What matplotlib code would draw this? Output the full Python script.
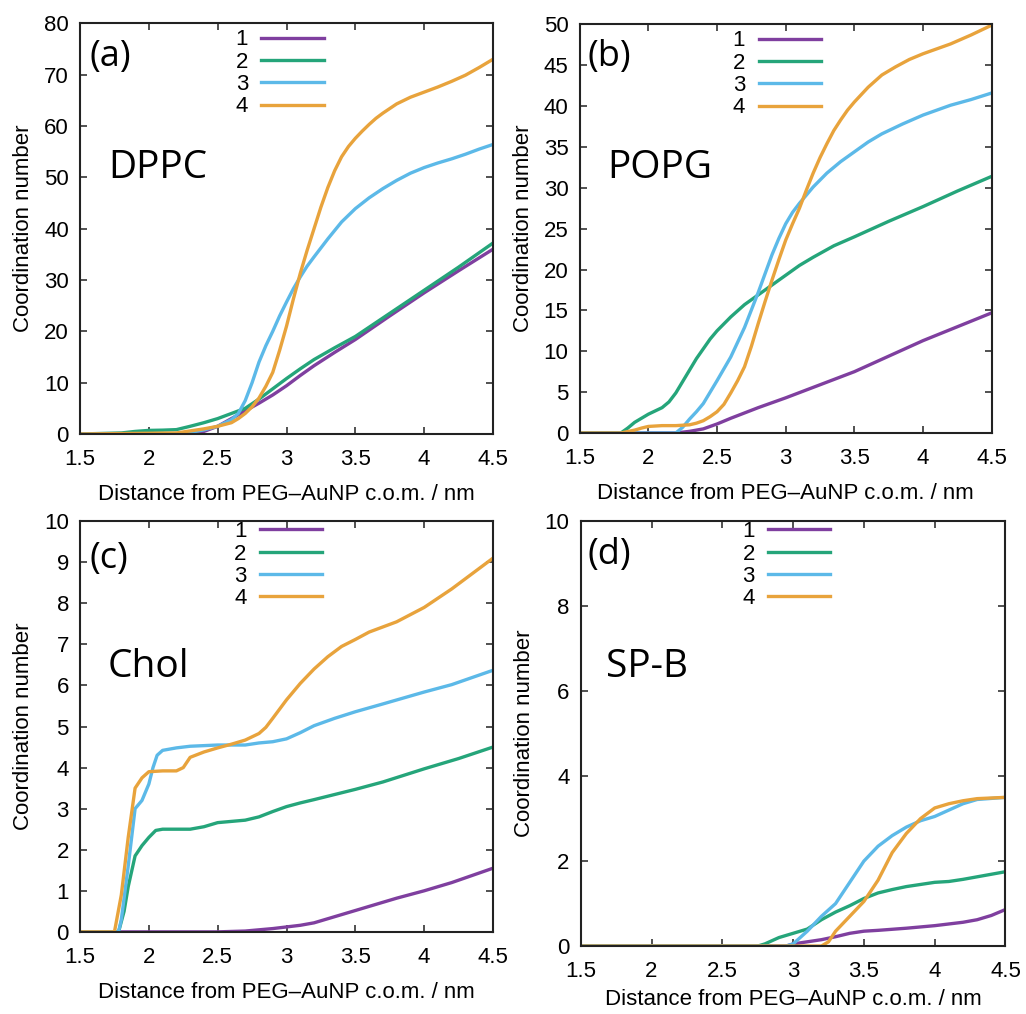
import numpy as np
import matplotlib.pyplot as plt

# colours of the 4 series (gnuplot-like)
colors = ['#7f3f9f', '#25a57a', '#5cb9e8', '#e8a33c']
series_labels = ['1', '2', '3', '4']

# (a) DPPC
a1_x = [1.5, 2.3, 2.4, 2.5, 2.6, 2.7, 2.8, 2.9, 3.0, 3.1, 3.2, 3.35, 3.5, 3.75, 4.0, 4.25, 4.5]
a1_y = [0, 0, 0.5, 1.5, 3.0, 4.5, 6.0, 7.6, 9.4, 11.4, 13.3, 15.9, 18.4, 23.0, 27.5, 31.8, 36.0]
a2_x = [1.5, 1.8, 1.9, 2.0, 2.1, 2.2, 2.3, 2.4, 2.5, 2.6, 2.7, 2.8, 2.9, 3.0, 3.1, 3.2, 3.35, 3.5,
        3.75, 4.0, 4.25, 4.5]
a2_y = [0, 0.2, 0.5, 0.7, 0.75, 0.85, 1.5, 2.2, 3.0, 4.0, 5.0, 6.8, 8.8, 10.8, 12.7, 14.5, 16.8,
        19.0, 23.5, 28.0, 32.5, 37.2]
a3_x = [1.5, 2.2, 2.3, 2.4, 2.5, 2.6, 2.65, 2.7, 2.75, 2.8, 2.85, 2.9, 2.95, 3.0, 3.05, 3.1, 3.15,
        3.2, 3.3, 3.4, 3.5, 3.6, 3.7, 3.8, 3.9, 4.0, 4.1, 4.2, 4.3, 4.4, 4.5]
a3_y = [0, 0, 0.3, 0.8, 1.5, 2.8, 4.0, 6.5, 10.0, 14.0, 17.2, 20.0, 23.0, 25.7, 28.3, 30.6, 32.7,
        34.5, 38.0, 41.3, 43.9, 46.0, 47.8, 49.4, 50.8, 51.9, 52.8, 53.6, 54.5, 55.5, 56.4]
a4_x = [1.5, 2.2, 2.3, 2.4, 2.5, 2.6, 2.65, 2.7, 2.75, 2.8, 2.85, 2.9, 2.95, 3.0, 3.05, 3.1, 3.15,
        3.2, 3.25, 3.3, 3.35, 3.4, 3.45, 3.5, 3.55, 3.6, 3.65, 3.7, 3.8, 3.9, 4.0, 4.1, 4.2, 4.3,
        4.4, 4.5]
a4_y = [0, 0.2, 0.6, 1.0, 1.5, 2.2, 3.0, 4.0, 5.3, 7.0, 9.3, 12.0, 16.3, 21.0, 26.3, 31.3, 35.8,
        40.0, 44.2, 48.0, 51.3, 54.0, 56.0, 57.6, 59.0, 60.3, 61.5, 62.5, 64.3, 65.6, 66.6, 67.6,
        68.7, 69.9, 71.4, 73.0]

# (b) POPG
b1_x = [1.5, 2.2, 2.3, 2.4, 2.5, 2.6, 2.8, 3.0, 3.25, 3.5, 3.75, 4.0, 4.25, 4.5]
b1_y = [0, 0, 0.2, 0.5, 1.1, 1.8, 3.1, 4.3, 5.9, 7.5, 9.4, 11.3, 13.0, 14.7]
b2_x = [1.5, 1.8, 1.85, 1.9, 1.95, 2.0, 2.05, 2.1, 2.15, 2.2, 2.25, 2.3, 2.35, 2.4, 2.45, 2.5, 2.6,
        2.7, 2.8, 2.9, 3.0, 3.1, 3.2, 3.35, 3.5, 3.75, 4.0, 4.25, 4.5]
b2_y = [0, 0, 0.6, 1.3, 1.8, 2.3, 2.7, 3.1, 3.8, 4.9, 6.3, 7.7, 9.1, 10.3, 11.5, 12.5, 14.2,
        15.7, 16.9, 18.1, 19.3, 20.5, 21.5, 22.9, 24.0, 25.9, 27.7, 29.6, 31.4]
b3_x = [1.5, 2.2, 2.25, 2.3, 2.35, 2.4, 2.5, 2.6, 2.7, 2.8, 2.9, 2.95, 3.0, 3.05, 3.1, 3.2, 3.3,
        3.4, 3.5, 3.6, 3.7, 3.85, 4.0, 4.2, 4.35, 4.5]
b3_y = [0, 0, 0.7, 1.7, 2.6, 3.6, 6.4, 9.3, 12.9, 17.2, 21.8, 23.8, 25.6, 27.0, 28.1, 30.1, 31.8,
        33.2, 34.4, 35.6, 36.6, 37.8, 38.9, 40.1, 40.8, 41.6]
b4_x = [1.5, 1.8, 1.9, 1.95, 2.0, 2.1, 2.2, 2.3, 2.35, 2.4, 2.45, 2.5, 2.55, 2.6, 2.65, 2.7, 2.75,
        2.8, 2.85, 2.9, 2.95, 3.0, 3.05, 3.1, 3.15, 3.2, 3.25, 3.3, 3.35, 3.4, 3.45, 3.5, 3.6, 3.7,
        3.8, 3.9, 4.0, 4.1, 4.2, 4.35, 4.5]
b4_y = [0, 0, 0.35, 0.6, 0.8, 0.9, 0.9, 1.0, 1.2, 1.5, 2.0, 2.6, 3.5, 4.9, 6.4, 8.1, 10.6, 13.4,
        16.1, 18.7, 21.2, 23.6, 25.6, 27.5, 29.7, 31.8, 33.7, 35.4, 37.0, 38.3, 39.5, 40.5, 42.3,
        43.8, 44.8, 45.7, 46.4, 47.0, 47.6, 48.7, 49.9]

# (c) Chol
c1_x = [1.5, 2.5, 2.7, 2.8, 2.9, 3.0, 3.1, 3.2, 3.3, 3.4, 3.6, 3.8, 4.0, 4.2, 4.5]
c1_y = [0, 0, 0.02, 0.05, 0.08, 0.12, 0.16, 0.22, 0.32, 0.42, 0.62, 0.82, 1.0, 1.2, 1.55]
c2_x = [1.5, 1.78, 1.82, 1.85, 1.9, 1.95, 2.0, 2.05, 2.1, 2.3, 2.4, 2.5, 2.7, 2.8, 2.9, 3.0, 3.1,
        3.2, 3.5, 3.7, 4.0, 4.25, 4.5]
c2_y = [0, 0, 0.5, 1.1, 1.85, 2.1, 2.3, 2.47, 2.5, 2.5, 2.56, 2.66, 2.72, 2.8, 2.93, 3.05, 3.14,
        3.22, 3.47, 3.65, 3.97, 4.22, 4.5]
c3_x = [1.5, 1.78, 1.8, 1.85, 1.9, 1.95, 2.0, 2.03, 2.06, 2.1, 2.2, 2.3, 2.5, 2.7, 2.8, 2.9, 3.0,
        3.1, 3.2, 3.35, 3.5, 3.7, 4.0, 4.2, 4.5]
c3_y = [0, 0, 0.3, 1.6, 3.0, 3.2, 3.6, 4.0, 4.3, 4.42, 4.48, 4.52, 4.55, 4.55, 4.6, 4.63, 4.7,
        4.85, 5.02, 5.2, 5.36, 5.55, 5.84, 6.02, 6.37]
c4_x = [1.5, 1.75, 1.8, 1.85, 1.9, 1.95, 2.0, 2.1, 2.2, 2.25, 2.3, 2.4, 2.5, 2.6, 2.7, 2.8, 2.85,
        2.9, 3.0, 3.1, 3.2, 3.3, 3.4, 3.5, 3.6, 3.8, 4.0, 4.2, 4.5]
c4_y = [0, 0, 0.9, 2.3, 3.5, 3.75, 3.9, 3.92, 3.92, 4.0, 4.25, 4.38, 4.48, 4.57, 4.67, 4.83, 4.98,
        5.2, 5.65, 6.05, 6.4, 6.7, 6.95, 7.12, 7.3, 7.55, 7.9, 8.35, 9.1]

# (d) SP-B
d1_x = [1.5, 2.95, 3.0, 3.1, 3.2, 3.3, 3.4, 3.5, 3.6, 3.8, 4.0, 4.2, 4.3, 4.4, 4.5]
d1_y = [0, 0, 0.05, 0.1, 0.15, 0.22, 0.3, 0.35, 0.37, 0.42, 0.48, 0.56, 0.62, 0.72, 0.86]
d2_x = [1.5, 2.75, 2.8, 2.9, 3.0, 3.1, 3.2, 3.3, 3.4, 3.5, 3.6, 3.7, 3.8, 3.9, 4.0, 4.1, 4.2,
        4.3, 4.5]
d2_y = [0, 0, 0.05, 0.2, 0.3, 0.4, 0.62, 0.8, 0.95, 1.12, 1.25, 1.33, 1.4, 1.45, 1.5, 1.52, 1.57,
        1.63, 1.75]
d3_x = [1.5, 2.95, 3.0, 3.1, 3.2, 3.3, 3.4, 3.5, 3.6, 3.7, 3.8, 3.9, 4.0, 4.1, 4.2, 4.3, 4.5]
d3_y = [0, 0, 0.05, 0.35, 0.7, 1.0, 1.5, 2.0, 2.35, 2.6, 2.8, 2.95, 3.05, 3.2, 3.35, 3.45, 3.5]
d4_x = [1.5, 3.2, 3.25, 3.3, 3.4, 3.5, 3.6, 3.7, 3.8, 3.9, 4.0, 4.1, 4.2, 4.3, 4.5]
d4_y = [0, 0, 0.1, 0.35, 0.7, 1.05, 1.55, 2.2, 2.65, 3.0, 3.25, 3.35, 3.42, 3.47, 3.5]

x_ticks = [1.5, 2, 2.5, 3, 3.5, 4, 4.5]
x_tick_labels = ['1.5', '2', '2.5', '3', '3.5', '4', '4.5']

panels = [
    dict(rect=[0.078, 0.572, 0.4025, 0.405], tag='(a)', name='DPPC', ymax=80, ystep=10,
         data=[(a1_x, a1_y), (a2_x, a2_y), (a3_x, a3_y), (a4_x, a4_y)],
         tagpos=(0.024, 0.917), namepos=(0.068, 0.647), leg=(0.59, 0.985), xlpad=10),
    dict(rect=[0.565, 0.573, 0.4016, 0.403], tag='(b)', name='POPG', ymax=50, ystep=5,
         data=[(b1_x, b1_y), (b2_x, b2_y), (b3_x, b3_y), (b4_x, b4_y)],
         tagpos=(0.02, 0.919), namepos=(0.068, 0.648), leg=(0.585, 0.985), xlpad=10),
    dict(rect=[0.078, 0.081, 0.4025, 0.405], tag='(c)', name='Chol', ymax=10, ystep=1,
         data=[(c1_x, c1_y), (c2_x, c2_y), (c3_x, c3_y), (c4_x, c4_y)],
         tagpos=(0.024, 0.907), namepos=(0.068, 0.645), leg=(0.586, 1.0), xlpad=10),
    dict(rect=[0.566, 0.067, 0.414, 0.419], tag='(d)', name='SP-B', ymax=10, ystep=2,
         data=[(d1_x, d1_y), (d2_x, d2_y), (d3_x, d3_y), (d4_x, d4_y)],
         tagpos=(0.016, 0.92), namepos=(0.059, 0.656), leg=(0.588, 1.0), xlpad=5),
]

plt.rcParams['font.family'] = ['Liberation Sans', 'DejaVu Sans']

fig = plt.figure(figsize=(10.26, 10.14), dpi=100)

for p in panels:
    ax = fig.add_axes(p['rect'])
    for (xs, ys), c, lab in zip(p['data'], colors, series_labels):
        ax.plot(xs, ys, color=c, lw=2.4, label=lab, solid_joinstyle='round')
    ax.set_xlim(1.5, 4.5)
    ax.set_ylim(0, p['ymax'])
    ax.set_xticks(x_ticks)
    ax.set_xticklabels(x_tick_labels)
    ax.set_yticks(np.arange(0, p['ymax'] + p['ystep'] / 2, p['ystep']))
    ax.tick_params(direction='in', top=True, right=True, length=5, width=1.2,
                   labelsize=16, color='#333333')
    ax.tick_params(axis='x', pad=11)
    ax.tick_params(axis='y', pad=8)
    for s in ax.spines.values():
        s.set_linewidth(1.5)
        s.set_color('#222222')
    ax.set_xlabel('Distance from PEG\u2013AuNP c.o.m. / nm', fontsize=16, labelpad=p['xlpad'])
    ax.set_ylabel('Coordination number', fontsize=16, labelpad=7)
    ax.text(p['tagpos'][0], p['tagpos'][1], p['tag'], transform=ax.transAxes,
            fontsize=26, family='Open Sans', va='center', ha='left')
    ax.text(p['namepos'][0], p['namepos'][1], p['name'], transform=ax.transAxes,
            fontsize=28, family='Open Sans', va='center', ha='left')
    ax.legend(loc='upper right', bbox_to_anchor=p['leg'], frameon=False, markerfirst=False,
              fontsize=16, handlelength=2.8, handletextpad=0.6, labelspacing=0.06,
              borderpad=0, borderaxespad=0)

fig.savefig('out.png', dpi=100)
